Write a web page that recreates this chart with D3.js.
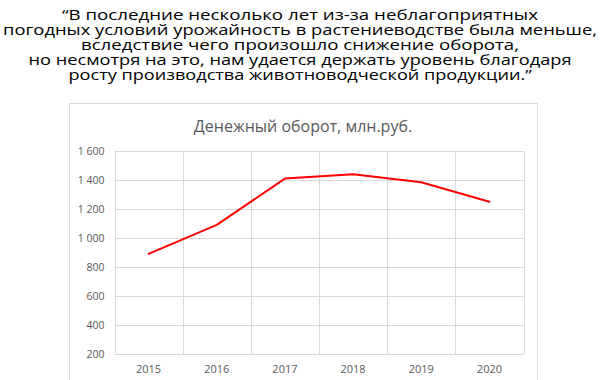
<!DOCTYPE html>
<html>
<head>
<meta charset="utf-8">
<script src="https://cdn.jsdelivr.net/npm/d3@7"></script>
<style>
  body { margin: 0; background: #fff; }
</style>
</head>
<body>
<svg id="canvas"></svg>
<script>
const quoteLines = [
  "\u201cВ последние несколько лет из-за неблагоприятных",
  "погодных условий урожайность в растениеводстве была меньше,",
  "вследствие чего произошло снижение оборота,",
  "но несмотря на это, нам удается держать уровень благодаря",
  "росту производства животноводческой продукции.\u201d"
];
// approximate widths of each quote line
const quoteWidths = [476, 594, 438, 543, 463];

const chartTitle = "Денежный оборот, млн.руб.";
const years = ["2015", "2016", "2017", "2018", "2019", "2020"];
const turnover = [890, 1090, 1410, 1440, 1385, 1250];
const yTicks = [200, 400, 600, 800, 1000, 1200, 1400, 1600];

const canvasWidth = 600;
const canvasHeight = 380;

const canvas = d3.select("#canvas")
  .attr("width", canvasWidth)
  .attr("height", canvasHeight);

// quote
canvas.selectAll(".quote")
  .data(quoteLines)
  .enter()
  .append("text")
  .attr("class", "quote")
  .attr("x", 300)
  .attr("y", (d, i) => 19.5 + i * 15.2)
  .attr("text-anchor", "middle")
  .attr("textLength", (d, i) => quoteWidths[i])
  .attr("lengthAdjust", "spacingAndGlyphs")
  .style("font-family", "'Open Sans', sans-serif")
  .style("font-size", "14.5px")
  .style("fill", "#000")
  .text((d) => d);

// chart frame
canvas.append("rect")
  .attr("x", 69.5)
  .attr("y", 103.5)
  .attr("width", 468)
  .attr("height", 290)
  .attr("fill", "#fff")
  .attr("stroke", "#d9d9d9");

canvas.append("text")
  .attr("x", 303)
  .attr("y", 132)
  .attr("text-anchor", "middle")
  .style("font-family", "'Open Sans', sans-serif")
  .style("font-size", "16px")
  .style("fill", "#595959")
  .text(chartTitle);

const plot = { left: 114.5, right: 523.5, top: 151, bottom: 354 };

const x = d3.scaleBand()
  .domain(years)
  .range([plot.left, plot.right])
  .padding(0);

const y = d3.scaleLinear()
  .domain([200, 1600])
  .range([plot.bottom, plot.top]);

// horizontal grid
canvas.append("g")
  .selectAll("line")
  .data(yTicks)
  .enter()
  .append("line")
  .attr("x1", plot.left)
  .attr("x2", plot.right)
  .attr("y1", (d) => Math.round(y(d)) + 0.5)
  .attr("y2", (d) => Math.round(y(d)) + 0.5)
  .attr("stroke", "#d9d9d9");

// vertical grid at category boundaries
const boundaries = years.map((d) => x(d)).concat([x(years[years.length - 1]) + x.bandwidth()]);
canvas.append("g")
  .selectAll("line")
  .data(boundaries)
  .enter()
  .append("line")
  .attr("x1", (d) => Math.round(d) + 0.5)
  .attr("x2", (d) => Math.round(d) + 0.5)
  .attr("y1", plot.top)
  .attr("y2", plot.bottom)
  .attr("stroke", "#d9d9d9");

// y axis labels
const yAxis = d3.axisLeft(y)
  .tickValues(yTicks)
  .tickSize(0)
  .tickPadding(10)
  .tickFormat((d) => d3.format(",")(d).replace(",", " "));

canvas.append("g")
  .attr("transform", "translate(" + plot.left + ",0)")
  .call(yAxis)
  .call((g) => g.select(".domain").remove())
  .selectAll("text")
  .style("font-family", "'Open Sans', sans-serif")
  .style("font-size", "10.5px")
  .style("fill", "#595959");

// x axis labels
const xAxis = d3.axisBottom(x).tickSize(0).tickPadding(11);
canvas.append("g")
  .attr("transform", "translate(0," + plot.bottom + ")")
  .call(xAxis)
  .call((g) => g.select(".domain").remove())
  .selectAll("text")
  .style("font-family", "'Open Sans', sans-serif")
  .style("font-size", "11px")
  .style("fill", "#595959");

// line
const line = d3.line()
  .x((d, i) => x(years[i]) + x.bandwidth() / 2)
  .y((d) => y(d));

canvas.append("path")
  .datum(turnover)
  .attr("d", line)
  .attr("fill", "none")
  .attr("stroke", "#ff0000")
  .attr("stroke-width", 2)
  .attr("stroke-linecap", "round")
  .attr("stroke-linejoin", "round");
</script>
</body>
</html>
